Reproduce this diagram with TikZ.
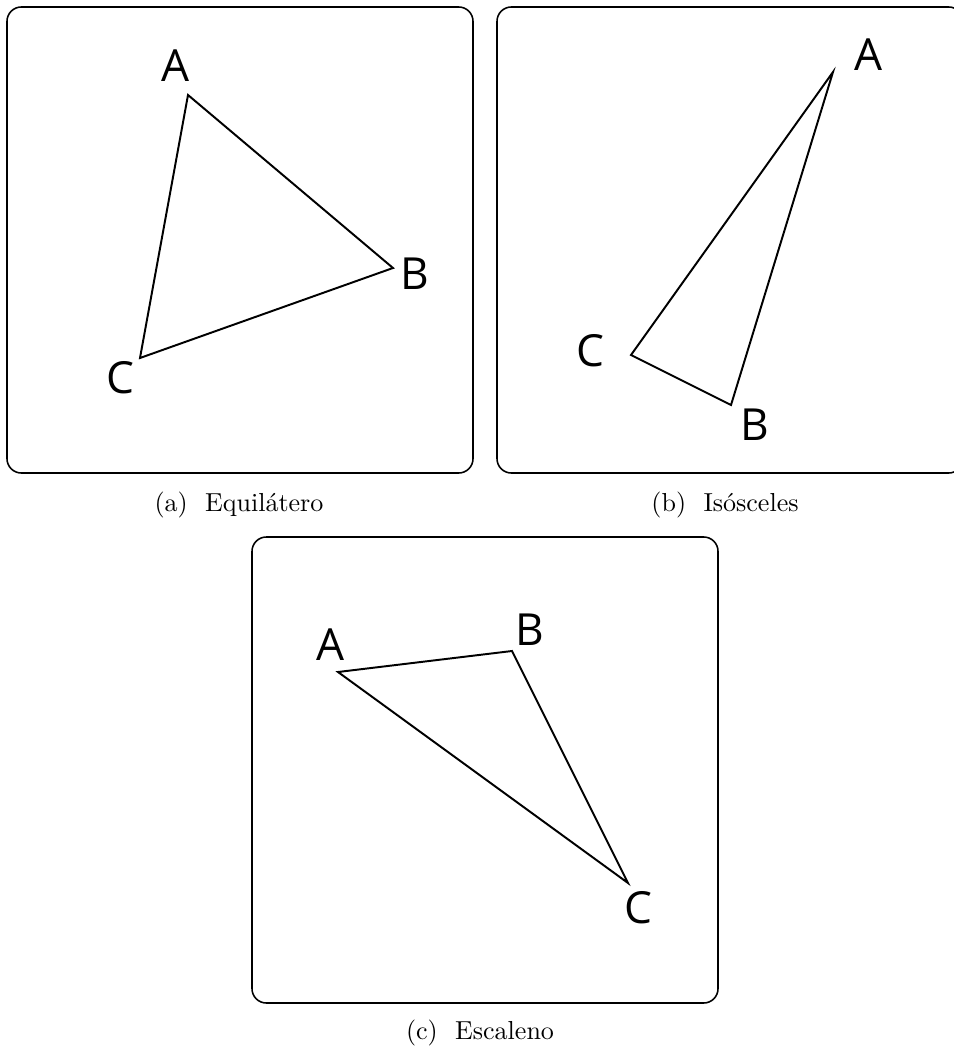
\documentclass[tikz,border=0pt]{standalone}
\usepackage{fontspec}
\newfontfamily\labelfont{Open Sans}
\begin{document}
\begin{tikzpicture}[x=0.0135cm, y=-0.0135cm, line width=0.75pt,
  panel/.style={line width=0.6pt, rounded corners=5.5pt},
  vlabel/.style={inner sep=0pt, font=\labelfont\fontsize{17}{20}\selectfont},
  capt/.style={anchor=base, inner sep=0pt}]
  \useasboundingbox (0,0) rectangle (953,1051);
  % (a)
  \draw[panel] (7,7) rectangle (473,473);
  \coordinate (aA) at (188,95);
  \coordinate (aB) at (393,268);
  \coordinate (aC) at (140,358);
  \draw[line join=miter] (aA) -- (aB) -- (aC) -- cycle;
  \node[vlabel] (laA) at (175,66) {A};
  \node[vlabel] (laB) at (415,274) {B};
  \node[vlabel] (laC) at (120,378) {C};
  \node[capt] (capa) at (239,511) {(a)\ \ Equilátero};
  % (b)
  \draw[panel] (497,7) rectangle (963,473);
  \coordinate (bA) at (833,72);
  \coordinate (bB) at (731,405);
  \coordinate (bC) at (631,355);
  \draw[line join=miter] (bA) -- (bB) -- (bC) -- cycle;
  \node[vlabel] (lbA) at (868,55) {A};
  \node[vlabel] (lbB) at (755,425) {B};
  \node[vlabel] (lbC) at (590,351) {C};
  \node[capt] (capb) at (725,511) {(b)\ \ Isósceles};
  % (c)
  \draw[panel] (252,537) rectangle (718,1003);
  \coordinate (cA) at (338,672);
  \coordinate (cB) at (512,651);
  \coordinate (cC) at (628,883);
  \draw[line join=miter] (cA) -- (cB) -- (cC) -- cycle;
  \node[vlabel] (lcA) at (330,645) {A};
  \node[vlabel] (lcB) at (530,630) {B};
  \node[vlabel] (lcC) at (638,908) {C};
  \node[capt] (capc) at (480,1039) {(c)\ \ Escaleno};
\end{tikzpicture}
\end{document}
